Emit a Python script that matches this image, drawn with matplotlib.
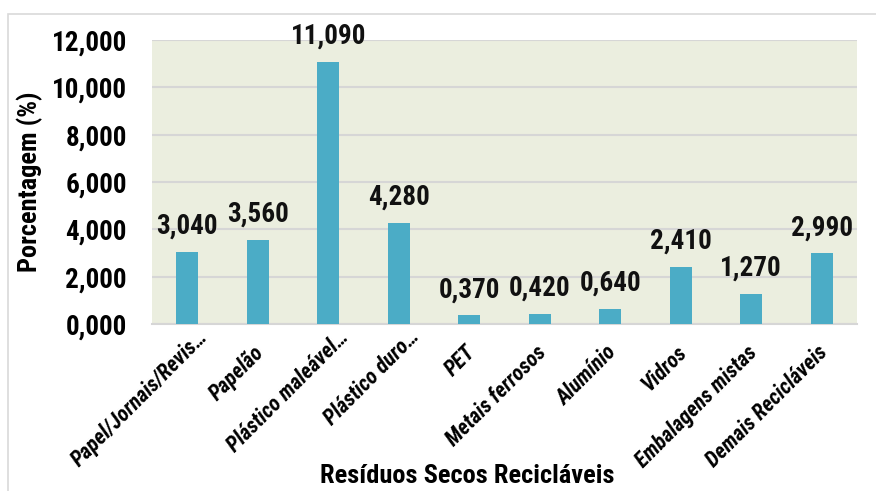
import matplotlib.pyplot as plt
from matplotlib.patches import Rectangle
from matplotlib.transforms import ScaledTranslation
import numpy as np

categories = ['Papel/Jornais/Revis…', 'Papelão', 'Plástico maleável…', 'Plástico duro…',
              'PET', 'Metais ferrosos', 'Alumínio', 'Vidros', 'Embalagens mistas',
              'Demais Recicláveis']
values = [3.040, 3.560, 11.090, 4.280, 0.370, 0.420, 0.640, 2.410, 1.270, 2.990]
yticks = [0, 2, 4, 6, 8, 10, 12]

plt.rcParams['font.family'] = ['Roboto Condensed', 'DejaVu Sans']


def fmt(v):
    return f'{v:.3f}'.replace('.', ',')


fig = plt.figure(figsize=(8.76, 4.91), dpi=100)
ax = fig.add_axes([152 / 876, 1 - 324 / 491, (857 - 152) / 876, (324 - 40) / 491])
ax.set_facecolor('#ebeedf')

x = np.arange(len(categories))
ax.bar(x, values, width=0.31, color='#4bacc6', zorder=3)
for xi, v in zip(x, values):
    ax.annotate(fmt(v), (xi, v), xytext=(0, 13), textcoords='offset points',
                ha='center', va='baseline', fontsize=19.5, fontweight='bold', color='#111111')

ax.set_xlim(-0.5, len(categories) - 0.5)
ax.set_ylim(0, 12)
ax.set_yticks(yticks)
ax.set_yticklabels([fmt(t) for t in yticks], fontsize=19.5, fontweight='bold')
ax.set_xticks(x)
ax.set_xticklabels(categories, rotation=45, ha='right', va='center', rotation_mode='anchor',
                   fontsize=15.5, fontweight='bold', style='italic')
ax.tick_params(axis='y', length=0, pad=18)
ax.tick_params(axis='x', length=0, pad=18)
# truncated labels (ending with an ellipsis) sit further along their baseline
for lab, name in zip(ax.get_xticklabels(), categories):
    dx, dy = (17, 15) if name.endswith('…') else (3, 0)
    lab.set_transform(lab.get_transform() + ScaledTranslation(dx / 100, dy / 100, fig.dpi_scale_trans))
ax.grid(axis='y', color='#d6d6d6', linewidth=1.5, zorder=0)
for s in ['top', 'right', 'left']:
    ax.spines[s].set_visible(False)
ax.spines['bottom'].set_color('#d6d6d6')
ax.spines['bottom'].set_linewidth(1.5)

ax.set_ylabel('Porcentagem (%)', fontsize=19, fontweight='bold', va='center')
ax.yaxis.set_label_coords((30 - 152) / 705, 0.5)
ax.set_xlabel('Resíduos Secos Recicláveis', fontsize=19, fontweight='bold', va='center')
ax.xaxis.set_label_coords((467 - 152) / 705, -(476 - 324) / 284)

fig.patches.append(Rectangle((8 / 876, -0.05), 1.0, 1 - 14 / 491 + 0.05, transform=fig.transFigure,
                             fill=False, edgecolor='#d9d9d9', linewidth=1.2))

fig.savefig('out.png', dpi=100)
